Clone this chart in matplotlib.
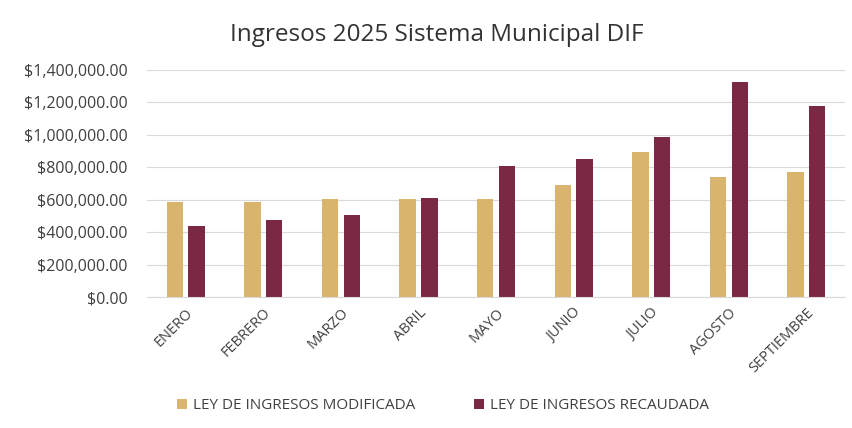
import numpy as np
import matplotlib
matplotlib.use("Agg")
import matplotlib.pyplot as plt
from matplotlib import ticker

# Datos
meses = ["ENERO", "FEBRERO", "MARZO", "ABRIL", "MAYO", "JUNIO", "JULIO", "AGOSTO", "SEPTIEMBRE"]
modificada = [583000, 586000, 605000, 605000, 605000, 688000, 892000, 740000, 772000]
recaudada = [437000, 473000, 505000, 613000, 808000, 852000, 988000, 1328000, 1178000]

col_mod = "#D8B46C"
col_rec = "#7A2844"
gris = "#404040"

plt.rcParams['font.family'] = ['Open Sans', 'DejaVu Sans']

fig = plt.figure(figsize=(8.52, 4.28), dpi=100)
ax = fig.add_axes([0.1725, 0.306, 0.8195, 0.5305])

x = np.arange(len(meses))
w = 0.21
ax.bar(x - 0.14, modificada, w, color=col_mod, label="LEY DE INGRESOS MODIFICADA")
ax.bar(x + 0.14, recaudada, w, color=col_rec, label="LEY DE INGRESOS RECAUDADA")

ax.set_xlim(-0.5, len(meses) - 0.5)
ax.set_ylim(0, 1400000)
ax.yaxis.set_major_locator(ticker.MultipleLocator(200000))
ax.yaxis.set_major_formatter(ticker.FuncFormatter(lambda v, p: "${:,.2f}".format(v)))
ax.grid(axis='y', color="#d9d9d9", linewidth=0.8)
ax.set_axisbelow(True)
for s in ['top', 'right', 'left']:
    ax.spines[s].set_visible(False)
ax.spines['bottom'].set_color("#d9d9d9")

ax.set_xticks(x)
ax.set_xticklabels(meses, rotation=45, ha='right', rotation_mode='anchor', fontsize=10.5, color=gris)
ax.tick_params(axis='x', length=0, pad=6)
ax.tick_params(axis='y', length=0, pad=14, labelsize=11.5, labelcolor=gris)

fig.text(0.513, 0.918, "Ingresos 2025 Sistema Municipal DIF", ha='center', va='center',
         fontsize=17.5, color="#333333")

fig.legend(loc='center', bbox_to_anchor=(0.52, 0.052), ncol=2, frameon=False,
           fontsize=11, handlelength=0.7, handleheight=0.7, columnspacing=3.8,
           handletextpad=0.4, labelcolor=gris)

fig.savefig("out.png", dpi=100)
